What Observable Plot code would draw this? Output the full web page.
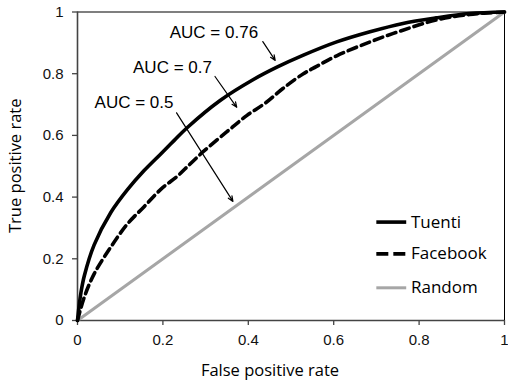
<!DOCTYPE html>
<html>
<head>
<meta charset="utf-8">
<script src="https://cdn.jsdelivr.net/npm/d3@7"></script>
<script src="https://cdn.jsdelivr.net/npm/@observablehq/plot@0.6"></script>
<style>
  html, body { margin: 0; padding: 0; background: #fff; }
  #chart { width: 508px; height: 383px; }
</style>
</head>
<body>
<div id="chart"></div>
<script>
// ---- Data ----
const xTicks = [0, 0.2, 0.4, 0.6, 0.8, 1];
const xTickLabels = ["0", "0.2", "0.4", "0.6", "0.8", "1"];
const yTicks = [0, 0.2, 0.4, 0.6, 0.8, 1];
const yTickLabels = ["0", "0.2", "0.4", "0.6", "0.8", "1"];

const tuentiX = [0, 0.004, 0.008, 0.016, 0.039, 0.078, 0.117, 0.156, 0.195, 0.226, 0.256, 0.334, 0.412, 0.467, 0.529, 0.607, 0.685, 0.762, 0.840, 0.918, 1];
const tuentiY = [0, 0.050, 0.090, 0.145, 0.245, 0.350, 0.424, 0.486, 0.540, 0.583, 0.624, 0.713, 0.781, 0.821, 0.860, 0.903, 0.936, 0.963, 0.981, 0.995, 1];

const facebookX = [0, 0.016, 0.039, 0.078, 0.117, 0.156, 0.195, 0.234, 0.256, 0.295, 0.350, 0.397, 0.440, 0.481, 0.529, 0.559, 0.607, 0.685, 0.762, 0.840, 0.918, 1];
const facebookY = [0, 0.076, 0.151, 0.238, 0.313, 0.369, 0.425, 0.468, 0.497, 0.548, 0.612, 0.665, 0.705, 0.752, 0.800, 0.823, 0.858, 0.903, 0.941, 0.974, 0.992, 1];

const randomX = [0, 1];
const randomY = [0, 1];

const seriesNames = ["Tuenti", "Facebook", "Random"];

const annLabels = ["AUC = 0.76", "AUC = 0.7", "AUC = 0.5"];
const annTextX = [0.216, 0.130, 0.040];
const annTextY = [0.935, 0.820, 0.706];
const arrowX1 = [0.434, 0.322, 0.232];
const arrowY1 = [0.904, 0.791, 0.673];
const arrowX2 = [0.463, 0.373, 0.364];
const arrowY2 = [0.843, 0.691, 0.386];

const xLabel = "False positive rate";
const yLabel = "True positive rate";

// ---- Layout / style (not data) ----
const legendLayout = { x1: 0.701, x2: 0.771, textX: 0.781, rows: [0.319, 0.216, 0.106] };
const styles = [
  { stroke: "#000", strokeWidth: 3.6, dash: null, legendDash: null },
  { stroke: "#000", strokeWidth: 3.6, dash: "9,5", legendDash: "12,5" },
  { stroke: "#a6a6a6", strokeWidth: 3, dash: null, legendDash: null }
];

const zip = (xs, ys) => xs.map((x, i) => ({ x, y: ys[i] }));
const tuenti = zip(tuentiX, tuentiY);
const facebook = zip(facebookX, facebookY);
const random = zip(randomX, randomY);

const annotations = annLabels.map((t, i) => ({ t, x: annTextX[i], y: annTextY[i] }));
const arrows = arrowX1.map((x1, i) => ({ x1, y1: arrowY1[i], x2: arrowX2[i], y2: arrowY2[i] }));
const legend = seriesNames.map((name, i) => ({ name, y: legendLayout.rows[i] }));

const lineStyle = (i) => ({
  x: "x", y: "y", stroke: styles[i].stroke, strokeWidth: styles[i].strokeWidth,
  strokeDasharray: styles[i].dash, curve: "catmull-rom", strokeLinejoin: "round"
});

const legendLines = legend.map((d, i) => Plot.ruleY([d], {
  y: "y", x1: legendLayout.x1, x2: legendLayout.x2,
  stroke: styles[i].stroke, strokeWidth: styles[i].strokeWidth, strokeDasharray: styles[i].legendDash
}));

const chart = Plot.plot({
  width: 508,
  height: 383,
  marginLeft: 77,
  marginRight: 4,
  marginTop: 11.5,
  marginBottom: 63,
  style: { fontFamily: "'Liberation Sans', Arial, sans-serif", background: "#fff", color: "#000" },
  x: { domain: [0, 1] },
  y: { domain: [0, 1] },
  marks: [
    Plot.frame({ stroke: "#000", strokeWidth: 1 }),
    Plot.axisX({ ticks: xTicks, tickFormat: (d, i) => xTickLabels[i], tickSize: 5, tickPadding: 9, fontSize: 15, label: null, stroke: "#444", strokeWidth: 1.3, fill: "#111" }),
    Plot.axisY({ ticks: yTicks, tickFormat: (d, i) => yTickLabels[i], tickSize: 5, tickPadding: 9, fontSize: 15, label: null, stroke: "#444", strokeWidth: 1.3, fill: "#111" }),
    Plot.ruleX([0], { stroke: "#444", strokeWidth: 1.6 }),
    Plot.ruleY([0], { stroke: "#444", strokeWidth: 1.6 }),
    Plot.line(random, lineStyle(2)),
    Plot.line(facebook, lineStyle(1)),
    Plot.line(tuenti, lineStyle(0)),
    Plot.arrow(arrows, { x1: "x1", y1: "y1", x2: "x2", y2: "y2", stroke: "#000", strokeWidth: 1.2, headLength: 7, headAngle: 45 }),
    Plot.text(annotations, { x: "x", y: "y", text: "t", textAnchor: "start", lineAnchor: "middle", fontSize: 17, fill: "#000" }),
    ...legendLines,
    Plot.text(legend, { x: legendLayout.textX, y: "y", text: "name", textAnchor: "start", lineAnchor: "middle", fontSize: 17, fontFamily: "'Open Sans', sans-serif", fill: "#000" })
  ]
});

// axis titles as real SVG text
const svg = d3.select(chart);
const ys = chart.scale("y");
svg.append("text")
  .attr("x", 270).attr("y", 376)
  .attr("text-anchor", "middle")
  .attr("font-family", "'Open Sans', sans-serif").attr("font-size", 16.5).attr("fill", "#000")
  .text(xLabel);
svg.append("text")
  .attr("transform", `translate(21,${(ys.apply(0) + ys.apply(1)) / 2}) rotate(-90)`)
  .attr("text-anchor", "middle")
  .attr("font-family", "'Open Sans', sans-serif").attr("font-size", 16.5).attr("fill", "#000")
  .text(yLabel);

document.getElementById("chart").appendChild(chart);
</script>
</body>
</html>
